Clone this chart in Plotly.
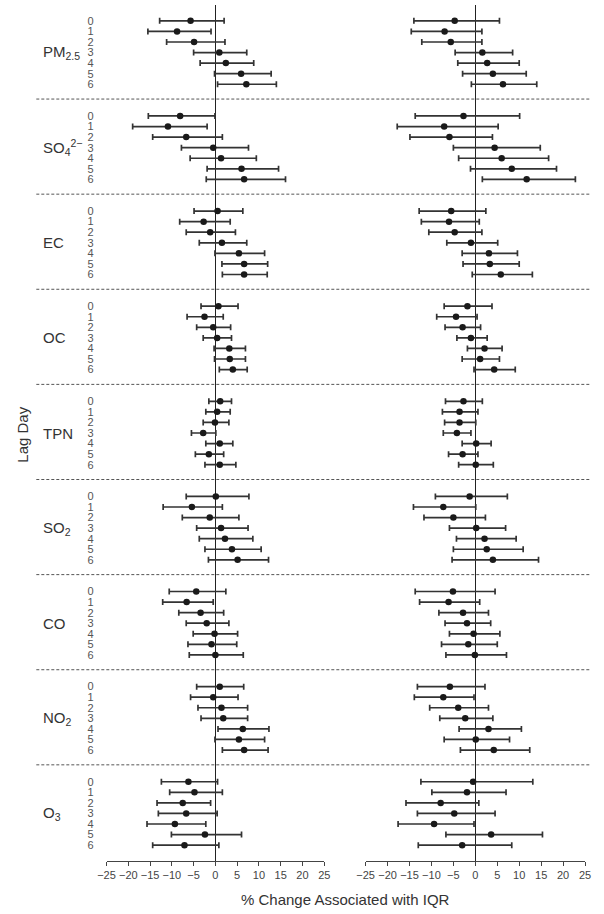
import plotly.graph_objects as go

W, H = 604, 914

pollutants = ["PM<sub>2.5</sub>", "SO<sub>4</sub><sup>2\u2212</sup>", "EC", "OC", "TPN",
              "SO<sub>2</sub>", "CO", "NO<sub>2</sub>", "O<sub>3</sub>"]
lags = [0, 1, 2, 3, 4, 5, 6]
x_ticks = [-25, -20, -15, -10, -5, 0, 5, 10, 15, 20, 25]
x_ticktext = ["\u221225", "\u221220", "\u221215", "\u221210", "\u22125", "0", "5", "10", "15", "20", "25"]

# Left panel: estimate, lower, upper (per pollutant, lags 0..6)
left_est = [
    [-5.7, -8.8, -4.9, 0.9, 2.4, 5.9, 7.1],
    [-8.1, -10.9, -6.7, -0.5, 1.3, 6.0, 6.6],
    [0.5, -2.7, -1.2, 1.5, 5.4, 6.6, 6.6],
    [0.7, -2.5, -0.5, 0.4, 3.2, 3.3, 4.0],
    [1.1, 0.4, -0.1, -2.8, 1.0, -1.5, 1.0],
    [0.1, -5.4, -1.3, 1.3, 2.2, 3.8, 5.1],
    [-4.4, -6.6, -3.4, -2.0, -0.2, -0.9, 0.0],
    [1.0, -0.5, 1.4, 1.8, 6.3, 5.4, 6.6],
    [-6.2, -4.8, -7.5, -6.7, -9.3, -2.4, -7.1],
]
left_lo = [
    [-12.8, -15.5, -11.2, -5.0, -3.5, -0.2, 0.5],
    [-15.4, -19.0, -14.4, -7.8, -5.8, -1.9, -2.1],
    [-4.9, -8.2, -6.7, -3.7, -0.1, 1.5, 1.6],
    [-3.3, -6.5, -4.3, -2.8, -0.3, -0.2, 0.9],
    [-1.5, -2.2, -2.8, -5.5, -2.2, -4.6, -2.4],
    [-6.7, -12.0, -7.6, -4.3, -3.7, -2.4, -1.6],
    [-10.6, -12.1, -8.4, -6.7, -5.1, -6.3, -6.0],
    [-4.3, -5.7, -4.0, -3.3, 0.6, -0.1, 1.6],
    [-12.4, -10.5, -13.4, -13.1, -15.7, -10.1, -14.4],
]
left_hi = [
    [2.0, -1.0, 2.2, 7.2, 8.8, 12.8, 14.0],
    [-0.1, -1.9, 1.6, 7.6, 9.4, 14.5, 16.1],
    [6.3, 3.4, 4.6, 7.2, 11.3, 12.0, 11.9],
    [5.2, 1.8, 3.5, 3.7, 6.9, 6.9, 7.3],
    [3.7, 3.4, 3.1, 0.1, 4.0, 1.9, 4.7],
    [7.7, 1.6, 5.4, 7.5, 8.6, 10.5, 12.2],
    [2.4, -0.5, 1.9, 3.1, 5.1, 4.9, 6.4],
    [6.5, 5.2, 7.4, 7.4, 12.3, 11.3, 12.1],
    [0.5, 1.6, -1.1, 0.4, -2.2, 6.0, 0.8],
]

# Right panel
right_est = [
    [-4.7, -7.0, -5.6, 1.6, 2.7, 4.0, 6.3],
    [-2.7, -7.1, -5.9, 4.4, 6.0, 8.3, 11.7],
    [-5.5, -6.0, -4.7, -1.0, 3.1, 3.3, 5.8],
    [-1.8, -4.4, -2.9, -1.0, 2.1, 1.1, 4.3],
    [-2.7, -3.6, -3.6, -4.2, 0.2, -2.9, 0.1],
    [-1.3, -7.3, -5.0, 0.2, 2.1, 2.6, 4.0],
    [-5.1, -6.1, -2.8, -1.9, -0.4, -1.6, -0.1],
    [-5.8, -7.3, -3.9, -2.3, 3.0, 0.1, 4.2],
    [-0.5, -1.9, -7.9, -4.8, -9.4, 3.6, -3.0],
]
right_lo = [
    [-14.0, -14.6, -12.2, -4.6, -4.0, -2.9, -0.9],
    [-13.7, -17.8, -14.9, -5.0, -3.8, -1.1, 1.6],
    [-12.8, -12.3, -10.6, -6.5, -3.0, -2.8, -0.7],
    [-7.1, -8.8, -6.9, -4.2, -1.8, -3.0, -0.3],
    [-6.8, -7.5, -7.0, -7.3, -3.0, -6.1, -3.8],
    [-9.1, -14.1, -11.7, -5.9, -4.3, -5.0, -5.3],
    [-13.7, -12.7, -8.3, -6.9, -5.9, -7.7, -6.7],
    [-13.2, -13.9, -10.4, -8.1, -3.7, -7.1, -3.4],
    [-12.4, -9.9, -15.8, -13.2, -17.6, -6.7, -13.0],
]
right_hi = [
    [5.5, 1.5, 1.5, 8.5, 10.0, 11.6, 14.0],
    [10.1, 5.2, 3.9, 14.8, 16.7, 18.5, 22.8],
    [2.4, 0.9, 1.5, 5.1, 9.6, 10.0, 13.0],
    [3.8, 0.4, 1.2, 2.7, 6.1, 5.5, 9.1],
    [1.6, 0.6, 0.1, -1.0, 3.6, 0.6, 4.1],
    [7.3, 0.1, 2.3, 6.9, 9.3, 10.9, 14.4],
    [4.5, 1.0, 3.0, 3.5, 5.6, 5.0, 7.1],
    [2.2, -0.3, 3.0, 4.0, 10.5, 7.8, 12.4],
    [13.1, 7.0, 0.8, 4.5, -0.3, 15.3, 8.3],
]

GROUP_STEP = 9  # rows per pollutant block (7 lags + gap)


def flatten(block):
    return [v for row in block for v in row]


rows = [g * GROUP_STEP + lag for g in range(len(pollutants)) for lag in lags]
lag_text = [str(lag) for g in range(len(pollutants)) for lag in lags]

fig = go.Figure()


def add_panel(est, lo, hi, xaxis):
    e = flatten(est)
    plus = [h - v for h, v in zip(flatten(hi), e)]
    minus = [v - l for l, v in zip(flatten(lo), e)]
    fig.add_trace(go.Scatter(
        x=e, y=rows, mode="markers", xaxis=xaxis, yaxis="y",
        marker=dict(color="#1a1a1a", size=6.5),
        error_x=dict(type="data", symmetric=False, array=plus, arrayminus=minus,
                     color="#333333", thickness=1.7, width=3),
        showlegend=False, hoverinfo="skip",
    ))


add_panel(left_est, left_lo, left_hi, "x")
add_panel(right_est, right_lo, right_hi, "x2")

FONT = "Liberation Sans, Arial, sans-serif"

axis_common = dict(
    range=[-25, 25], tickvals=x_ticks, ticktext=x_ticktext,
    showgrid=False, zeroline=True, zerolinecolor="#222222", zerolinewidth=1.3,
    showline=True, linecolor="#444444", linewidth=1.2,
    ticks="outside", ticklen=4, tickcolor="#444444", tickwidth=1.2,
    tickfont=dict(family=FONT, size=11, color="#444444"),
    anchor="y", fixedrange=True,
)

fig.update_layout(
    width=W, height=H,
    margin=dict(l=0, r=0, t=0, b=0),
    paper_bgcolor="white", plot_bgcolor="white",
    xaxis=dict(domain=[100 / W, 323.3 / W], **axis_common),
    xaxis2=dict(domain=[365.7 / W, 590.7 / W], **axis_common),
    yaxis=dict(
        domain=[(H - 861) / H, (H - 5) / H],
        range=[79.5, -1.5],
        tickvals=rows, ticktext=lag_text,
        showgrid=False, zeroline=False, showline=False, ticks="",
        ticklabelstandoff=12,
        tickfont=dict(family=FONT, size=11, color="#555555"),
        anchor="x", fixedrange=True,
    ),
    font=dict(family=FONT, color="#333333"),
)

# dashed separators between pollutant blocks
for g in range(len(pollutants) - 1):
    yy = g * GROUP_STEP + 7.4
    fig.add_shape(type="line", xref="paper", yref="y", x0=28 / W, x1=597 / W, y0=yy, y1=yy,
                  line=dict(color="#555555", width=1, dash="3px,2px"))

# pollutant labels
for g, name in enumerate(pollutants):
    fig.add_annotation(x=33 / W, xref="paper", y=g * GROUP_STEP + 3, yref="y",
                       text=name, showarrow=False, xanchor="left", yanchor="middle",
                       font=dict(family=FONT, size=15, color="#333333"))

fig.add_annotation(x=13 / W, xref="paper", y=(H - 435) / H, yref="paper",
                   text="Lag Day", textangle=-90, showarrow=False,
                   xanchor="center", yanchor="middle",
                   font=dict(family=FONT, size=15, color="#333333"))

fig.add_annotation(x=345 / W, xref="paper", y=(H - 899) / H, yref="paper",
                   text="% Change Associated with IQR", showarrow=False,
                   xanchor="center", yanchor="middle",
                   font=dict(family=FONT, size=15, color="#333333"))

fig.write_html("out.html", config={"displayModeBar": False},
               post_script="document.body.style.margin='0';document.body.style.overflow='hidden';")
